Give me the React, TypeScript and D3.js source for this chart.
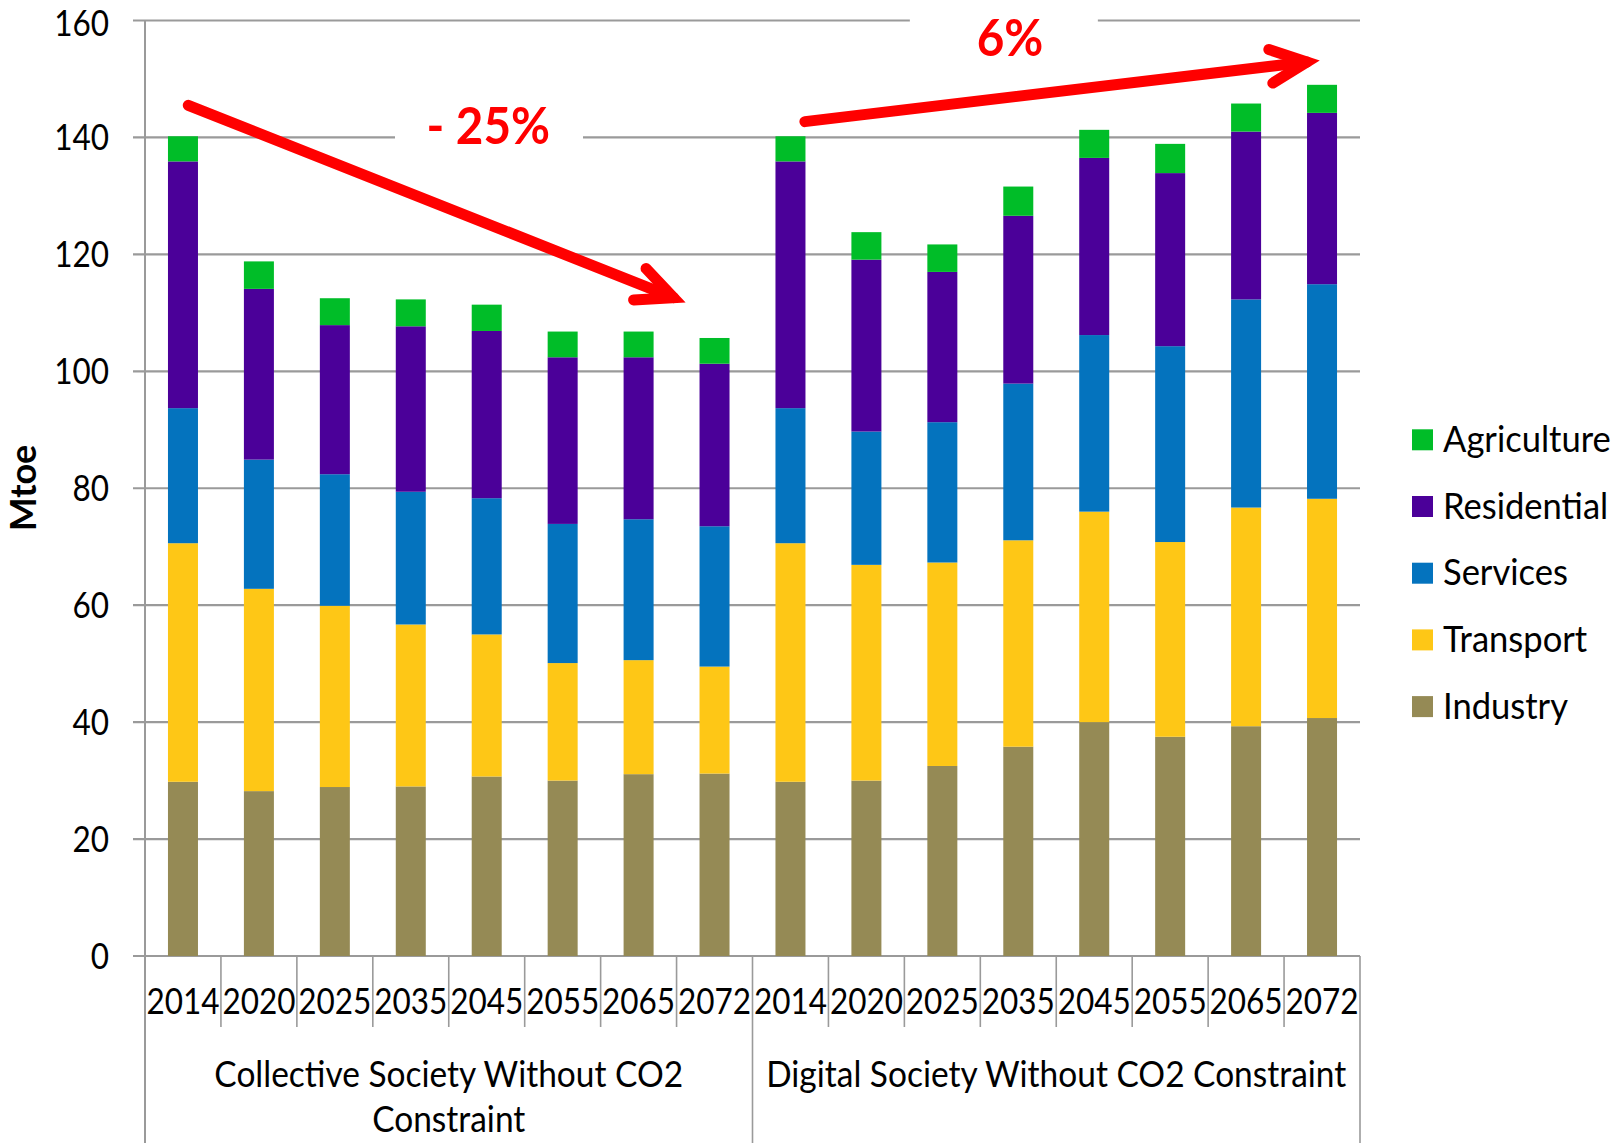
import React from "react";
import * as d3 from "d3";

const years = ["2014", "2020", "2025", "2035", "2045", "2055", "2065", "2072"];
const groups = ["Collective Society Without CO2 Constraint", "Digital Society Without CO2 Constraint"];
const groupLines = [["Collective Society Without CO2", "Constraint"], ["Digital Society Without CO2 Constraint"]];
const seriesNames = ["Industry", "Transport", "Services", "Residential", "Agriculture"];
const seriesColors = ["#958A55", "#FEC716", "#0473BE", "#4B0099", "#00BD28"];

const industry = [29.8, 28.2, 28.9, 29.0, 30.7, 30.0, 31.1, 31.2, 29.8, 30.0, 32.5, 35.8, 40.0, 37.5, 39.3, 40.7];
const transport = [40.8, 34.6, 31.0, 27.7, 24.3, 20.1, 19.5, 18.3, 40.8, 36.9, 34.8, 35.3, 36.0, 33.3, 37.4, 37.5];
const services = [23.1, 22.1, 22.5, 22.7, 23.3, 23.8, 24.1, 24.0, 23.1, 22.8, 24.0, 26.8, 30.2, 33.5, 35.6, 36.7];
const residential = [42.2, 29.2, 25.5, 28.3, 28.6, 28.5, 27.7, 27.8, 42.2, 29.4, 25.7, 28.7, 30.3, 29.6, 28.7, 29.3];
const agriculture = [4.3, 4.7, 4.6, 4.6, 4.5, 4.4, 4.4, 4.4, 4.3, 4.7, 4.7, 5.0, 4.8, 5.0, 4.8, 4.8];

const yTicks = [0, 20, 40, 60, 80, 100, 120, 140, 160];

// annotations in data space: i = category index (fractional), v = value
const arrows = [
  { from: { i: 0.07, v: 145.5 }, to: { i: 6.46, v: 112.6 } },
  { from: { i: 8.19, v: 142.7 }, to: { i: 14.8, v: 152.9 } },
];
const arrowLabels = [
  { text: "- 25%", i: 4.02, v: 138.8, boxI: 4.03, boxV: 140 },
  { text: "6%", i: 10.89, v: 153.9, boxI: 10.81, boxV: 160 },
];

const FONT = "Lato, 'Open Sans', sans-serif";
const SX = 0.875;

function SText({ x, y, anchor = "start", size = 36, weight = 400, fill = "#000", children, sx = SX }: any) {
  return (
    <text
      transform={`translate(${x},${y}) scale(${sx},1)`}
      textAnchor={anchor}
      fontFamily={FONT}
      fontSize={size}
      fontWeight={weight}
      fill={fill}
    >
      {children}
    </text>
  );
}

export default function App() {
  const W = 1621, H = 1143;
  const left = 145, right = 1360, y0 = 956, yTop = 20.5;
  const cats = [...years.map((y) => "C" + y), ...years.map((y) => "D" + y)];
  const x = d3.scaleBand<string>().domain(cats).range([left, right]).paddingInner(0).paddingOuter(0);
  const band = x.bandwidth();
  const barW = 30;
  const y = d3.scaleLinear().domain([0, 160]).range([y0, yTop]);
  const xi = d3.scaleLinear().domain([-0.5, 15.5]).range([left, right]);

  const rows = cats.map((c, k) => ({
    cat: c,
    Industry: industry[k],
    Transport: transport[k],
    Services: services[k],
    Residential: residential[k],
    Agriculture: agriculture[k],
  }));
  const stacked = d3.stack<any>().keys(seriesNames)(rows);

  const grid = "#9A9A9A";

  const arrowPath = (a: any) => {
    const x1 = xi(a.from.i), y1 = y(a.from.v), x2 = xi(a.to.i), y2 = y(a.to.v);
    const ang = Math.atan2(y2 - y1, x2 - x1);
    const L = 40, spread = (25 * Math.PI) / 180;
    const b1x = x2 - L * Math.cos(ang - spread), b1y = y2 - L * Math.sin(ang - spread);
    const b2x = x2 - L * Math.cos(ang + spread), b2y = y2 - L * Math.sin(ang + spread);
    return { shaft: `M${x1},${y1}L${x2},${y2}`, head: `M${b1x},${b1y}L${x2},${y2}L${b2x},${b2y}` };
  };

  return (
    <svg width={W} height={H} style={{ position: "absolute", left: 0, top: 0, background: "#fff" }}>
      <rect x={0} y={0} width={W} height={H} fill="#fff" />
      {/* gridlines + y ticks */}
      {yTicks.map((t) => (
        <g key={t}>
          <line x1={133} x2={right} y1={y(t)} y2={y(t)} stroke={grid} strokeWidth={2.2} />
          <SText x={109} y={Math.max(y(t) + 13, 36)} anchor="end" size={36}>{t}</SText>
        </g>
      ))}
      {/* white label boxes covering gridlines */}
      {arrowLabels.map((l, k) => (
        <rect key={k} x={xi(l.boxI) - 94} y={y(l.boxV) - 30} width={188} height={60} fill="#fff" />
      ))}
      {/* bars */}
      {stacked.map((s, si) => (
        <g key={s.key} fill={seriesColors[si]}>
          {s.map((d: any, k: number) => (
            <rect
              key={k}
              x={(x(cats[k]) as number) + band / 2 - barW / 2}
              y={y(d[1])}
              width={barW}
              height={y(d[0]) - y(d[1])}
            />
          ))}
        </g>
      ))}
      {/* y axis line */}
      <line x1={left} x2={left} y1={yTop} y2={H} stroke={grid} strokeWidth={2} />
      {/* category ticks */}
      {cats.map((c, k) =>
        k === 0 || k === 8 ? null : (
          <line key={c} x1={x(c)} x2={x(c)} y1={y0} y2={1027} stroke={grid} strokeWidth={1.6} />
        )
      )}
      <line x1={xi(7.5)} x2={xi(7.5)} y1={y0} y2={H} stroke={grid} strokeWidth={1.6} />
      <line x1={right} x2={right} y1={y0} y2={H} stroke={grid} strokeWidth={1.6} />
      {/* x labels */}
      {cats.map((c, k) => (
        <SText key={c} x={(x(c) as number) + band / 2} y={1014} anchor="middle" size={36}>
          {years[k % 8]}
        </SText>
      ))}
      {groupLines.map((lines, g) =>
        lines.map((ln, li) => (
          <SText key={g + "-" + li} x={xi(g * 8 + 3.5)} y={1087 + li * 45} anchor="middle" size={36} sx={0.93}>
            {ln}
          </SText>
        ))
      )}
      {/* y axis title */}
      <text
        transform={`translate(36,488) rotate(-90)`}
        textAnchor="middle"
        fontFamily={FONT}
        fontSize={36}
        fontWeight={700}
      >
        Mtoe
      </text>
      {/* legend */}
      {[...seriesNames].reverse().map((n, k) => {
        const si = seriesNames.indexOf(n);
        const top = 429.3 + k * 66.7;
        return (
          <g key={n}>
            <rect x={1412} y={top} width={21} height={21} fill={seriesColors[si]} />
            <SText x={1443} y={top + 22.5} size={36} sx={0.96}>{n}</SText>
          </g>
        );
      })}
      {/* arrows */}
      {arrows.map((a, k) => {
        const p = arrowPath(a);
        return (
          <g key={k} stroke="#FF0000" strokeWidth={11} fill="none" strokeLinecap="round" strokeLinejoin="miter">
            <path d={p.shaft} />
            <path d={p.head} />
          </g>
        );
      })}
      {arrowLabels.map((l, k) => (
        <SText key={k} x={xi(l.i)} y={y(l.v)} anchor="middle" size={52} weight={700} fill="#FF0000" sx={0.915}>
          {l.text}
        </SText>
      ))}
    </svg>
  );
}
